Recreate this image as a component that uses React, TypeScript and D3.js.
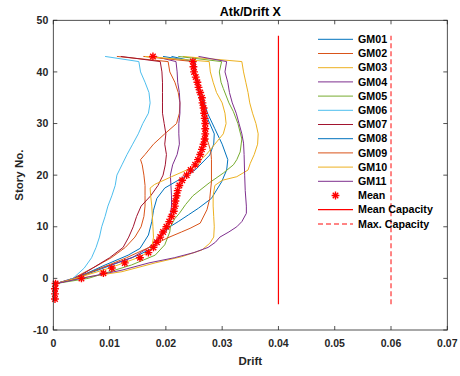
import React from 'react'
import * as d3 from 'd3'

// [story, drift]
const gm01: [number, number][] = [[-4, 0.0003], [-1, 0.0005], [0, 0.004], [2.6, 0.0104], [4.5, 0.0151], [5.8, 0.0175], [8.4, 0.0193], [10, 0.0207], [11, 0.0222], [12.3, 0.024], [13.6, 0.0258], [15.5, 0.0281], [18.7, 0.0299], [21, 0.0308], [23, 0.031], [26, 0.03], [29, 0.0287], [32, 0.0274], [35.5, 0.0264], [38, 0.0256], [40, 0.0252], [42, 0.0251], [43, 0.0195]]
const gm02: [number, number][] = [[-4, 0.0003], [-1, 0.0006], [0, 0.0035], [2, 0.007], [4, 0.0103], [6, 0.0128], [8, 0.0145], [10, 0.0156], [12, 0.0161], [14, 0.0163], [16, 0.0163], [18, 0.0163], [20, 0.0161], [22, 0.0158], [23, 0.0155], [24, 0.0163], [26, 0.0178], [28, 0.0198], [30, 0.0219], [32, 0.0224], [34, 0.0225], [36, 0.0222], [38, 0.0216], [40, 0.0207], [42, 0.0204], [43, 0.0113]]
const gm03: [number, number][] = [[-4, 0.0003], [-1, 0.0005], [0, 0.0045], [1.3, 0.0122], [3, 0.0181], [4.2, 0.0228], [5.5, 0.0264], [6.8, 0.0278], [8, 0.0285], [10, 0.0286], [12, 0.0285], [14, 0.0284], [16, 0.0284], [18, 0.0287], [19, 0.03], [19.7, 0.0326], [21, 0.0346], [22.3, 0.035], [24, 0.0357], [26, 0.0363], [28, 0.0364], [30, 0.036], [32, 0.0354], [34, 0.0349], [36, 0.0346], [38, 0.0342], [40, 0.0338], [42, 0.0335], [43, 0.023]]
const gm04: [number, number][] = [[-4, 0.0003], [-1, 0.0005], [0, 0.0035], [2, 0.0085], [4, 0.014], [6, 0.017], [8, 0.0188], [10, 0.0203], [12, 0.0208], [14, 0.021], [16, 0.021], [18, 0.0209], [20, 0.0208], [22, 0.0212], [24, 0.022], [26, 0.0224], [28, 0.0223], [30, 0.0223], [32, 0.0225], [34, 0.0225], [36, 0.0224], [38, 0.0221], [40, 0.022], [42, 0.0218], [43, 0.018]]
const gm05: [number, number][] = [[-4, 0.0003], [-1, 0.0005], [0, 0.0062], [2.6, 0.0139], [4.5, 0.0181], [6.5, 0.0198], [9, 0.0207], [10, 0.0208], [11.6, 0.0216], [12.6, 0.0224], [14.3, 0.0235], [16, 0.0248], [18.5, 0.0277], [20.4, 0.0302], [22, 0.032], [23, 0.0326], [24.5, 0.0332], [27, 0.0335], [30, 0.0328], [32.3, 0.032], [34, 0.0312], [36.8, 0.0302], [38, 0.0298], [40, 0.0295], [42, 0.0299], [43, 0.0222]]
const gm06: [number, number][] = [[-4, 0.0003], [-1, 0.0006], [0, 0.0035], [2, 0.0055], [4, 0.0068], [6, 0.0076], [8, 0.0082], [10, 0.0086], [12, 0.0092], [14, 0.0097], [16, 0.0104], [18, 0.011], [20, 0.0113], [22, 0.0122], [24, 0.0131], [26, 0.0141], [28, 0.0151], [30, 0.0159], [32, 0.0169], [34, 0.0172], [36, 0.017], [38, 0.0163], [40, 0.0155], [42, 0.0152], [43, 0.0092]]
const gm07: [number, number][] = [[-4, 0.0003], [-1, 0.0006], [0, 0.004], [2, 0.007], [4, 0.01], [6, 0.0124], [8, 0.0134], [10, 0.0142], [12, 0.0148], [14, 0.0156], [16, 0.0173], [18, 0.0186], [20, 0.0195], [22, 0.0199], [24, 0.0201], [26, 0.0198], [28, 0.02], [30, 0.0197], [32, 0.0194], [34, 0.0194], [36, 0.0194], [38, 0.0194], [40, 0.0193], [42, 0.019], [43, 0.012]]
const gm08: [number, number][] = [[-4, 0.0003], [-1, 0.0005], [0, 0.004], [2.5, 0.009], [4.5, 0.0133], [5.8, 0.0154], [8.4, 0.0169], [11, 0.0175], [13.2, 0.0178], [15.5, 0.0184], [17.5, 0.0198], [19.4, 0.0228], [21, 0.0252], [23.9, 0.0278], [26, 0.0285], [28, 0.0286], [30, 0.0278], [32, 0.027], [34, 0.0262], [37, 0.0256], [40, 0.0252], [42, 0.0252], [43, 0.021]]
const gm09: [number, number][] = [[-4, 0.0003], [-1, 0.0005], [0, 0.004], [2, 0.0085], [4, 0.013], [6, 0.017], [7.8, 0.0202], [9, 0.0228], [9.7, 0.0243], [10.7, 0.0261], [13.3, 0.0273], [15.5, 0.0278], [18.7, 0.0281], [23, 0.0281], [24.5, 0.028], [26, 0.0276], [28, 0.027], [30, 0.0268], [34, 0.0262], [38, 0.0256], [42, 0.0249], [43, 0.016]]
const gm10: [number, number][] = [[-4, 0.0003], [-1, 0.0005], [0, 0.004], [2, 0.01], [4, 0.015], [5, 0.0168], [6, 0.0175], [8, 0.0178], [10, 0.0177], [12, 0.0176], [14, 0.0175], [16, 0.0173], [17.5, 0.0172], [18.2, 0.018], [19.7, 0.021], [22, 0.0258], [23, 0.0262], [24, 0.0272], [26, 0.0287], [28, 0.0302], [30, 0.0307], [32, 0.0305], [34, 0.03], [36, 0.029], [38, 0.0284], [40, 0.0279], [42, 0.0277], [43, 0.0163]]
const gm11: [number, number][] = [[-4, 0.0003], [-1, 0.0005], [0, 0.005], [1.6, 0.0122], [3, 0.017], [4, 0.0215], [5, 0.025], [6, 0.0275], [7, 0.0288], [8, 0.0296], [9, 0.0312], [10, 0.0326], [11, 0.0335], [12.6, 0.0343], [14, 0.0343], [17, 0.0341], [20, 0.034], [24, 0.0339], [26.2, 0.0338], [28, 0.0335], [30, 0.033], [32, 0.0325], [34, 0.0318], [36, 0.0313], [38, 0.031], [40, 0.0305], [42, 0.0308], [43, 0.0258]]

const meanStories = d3.range(-4, 44)
const meanDrift = [0.0003, 0.0003, 0.0003, 0.0004, 0.005, 0.0089, 0.0104, 0.0127, 0.0154, 0.0169,
  0.0178, 0.0184, 0.019, 0.0195, 0.0201, 0.0206, 0.021, 0.0214, 0.0216, 0.0217,
  0.0219, 0.0221, 0.0224, 0.0229, 0.0237, 0.0244, 0.0252, 0.0257, 0.0261, 0.0264,
  0.0267, 0.0269, 0.027, 0.027, 0.027, 0.0269, 0.0268, 0.0267, 0.0265, 0.0264,
  0.0261, 0.0258, 0.0256, 0.0253, 0.025, 0.0249, 0.0248, 0.0177]

const meanCapacity = 0.04
const maxCapacity = 0.06
const capacityStories = [-5, 47]

const gmNames = ['GM01', 'GM02', 'GM03', 'GM04', 'GM05', 'GM06', 'GM07', 'GM08', 'GM09', 'GM10', 'GM11']
const gmData = [gm01, gm02, gm03, gm04, gm05, gm06, gm07, gm08, gm09, gm10, gm11]
const colors = ['#0072BD', '#D95319', '#EDB120', '#7E2F8E', '#77AC30', '#4DBEEE', '#A2142F',
  '#0072BD', '#D95319', '#EDB120', '#7E2F8E']

const xTicks = [0, 0.01, 0.02, 0.03, 0.04, 0.05, 0.06, 0.07]
const yTicks = [-10, 0, 10, 20, 30, 40, 50]

const font = '"Liberation Sans", Arial, sans-serif'
const axisColor = '#262626'

const star = (r: number) => {
  const p = d3.path()
  const a = r * 0.7071
  p.moveTo(-r, 0); p.lineTo(r, 0)
  p.moveTo(0, -r); p.lineTo(0, r)
  p.moveTo(-a, -a); p.lineTo(a, a)
  p.moveTo(-a, a); p.lineTo(a, -a)
  return p.toString()
}

const App: React.FC = () => {
  const width = 460
  const height = 376
  const left = 53.3, right = 447.3, top = 20.3, bottom = 330

  const x = d3.scaleLinear().domain([0, 0.07]).range([left, right])
  const y = d3.scaleLinear().domain([-10, 50]).range([bottom, top])

  const line = d3.line<[number, number]>()
    .x(d => x(d[1]))
    .y(d => y(d[0]))

  const starPath = star(3.9)
  const legendX = 318
  const legendY = 39.3
  const rowH = 14.2
  const legendFont = 10.7

  return (
    <svg width={width} height={height} style={{ position: 'absolute', left: 0, top: 0, background: '#fff' }}
      fontFamily={font}>
      <rect x={0} y={0} width={width} height={height} fill='#fff' />
      {gmData.map((d, i) => (
        <path key={gmNames[i]} d={line(d) ?? ''} fill='none' stroke={colors[i]} strokeWidth={1} />
      ))}
      {meanStories.map((s, i) => (
        <path key={'m' + s} d={starPath} transform={`translate(${x(meanDrift[i])},${y(s)})`}
          stroke='#ff0000' strokeWidth={1.4} fill='none' />
      ))}
      <line x1={x(meanCapacity)} x2={x(meanCapacity)} y1={y(capacityStories[0])} y2={y(capacityStories[1])}
        stroke='#ff0000' strokeWidth={1.2} />
      <line x1={x(maxCapacity)} x2={x(maxCapacity)} y1={y(capacityStories[0])} y2={y(capacityStories[1])}
        stroke='#ff5c5c' strokeWidth={1.5} strokeDasharray='5,3' />

      {/* axes box */}
      <rect x={left} y={top} width={right - left} height={bottom - top} fill='none' stroke={axisColor} strokeWidth={0.8} />
      {xTicks.map(t => (
        <g key={'x' + t}>
          <line x1={x(t)} x2={x(t)} y1={bottom} y2={bottom - 4} stroke={axisColor} strokeWidth={0.8} />
          <line x1={x(t)} x2={x(t)} y1={top} y2={top + 4} stroke={axisColor} strokeWidth={0.8} />
          <text x={x(t)} y={bottom + 17} textAnchor='middle' fontSize={10.5} fontWeight='bold' fill={axisColor}>
            {t === 0 ? '0' : d3.format('.2f')(t)}
          </text>
        </g>
      ))}
      {yTicks.map(t => (
        <g key={'y' + t}>
          <line x1={left} x2={left + 4} y1={y(t)} y2={y(t)} stroke={axisColor} strokeWidth={0.8} />
          <line x1={right} x2={right - 4} y1={y(t)} y2={y(t)} stroke={axisColor} strokeWidth={0.8} />
          <text x={left - 5} y={y(t)} dy='0.35em' textAnchor='end' fontSize={10.5} fontWeight='bold' fill={axisColor}>
            {t}
          </text>
        </g>
      ))}
      <text x={(left + right) / 2} y={15.5} textAnchor='middle' fontSize={12.5} fontWeight='bold' fill='#000'>
        Atk/Drift X
      </text>
      <text x={(left + right) / 2} y={365} textAnchor='middle' fontSize={11.5} fontWeight='bold' fill={axisColor}>
        Drift
      </text>
      <text transform={`translate(23,${(top + bottom) / 2}) rotate(-90)`} textAnchor='middle' fontSize={11.5}
        fontWeight='bold' fill={axisColor}>
        Story No.
      </text>

      {/* legend */}
      {gmNames.map((n, i) => (
        <g key={'l' + n} transform={`translate(0,${legendY + i * rowH})`}>
          <line x1={legendX} x2={legendX + 35} y1={0} y2={0} stroke={colors[i]} strokeWidth={1} />
          <text x={legendX + 40} y={0} dy='0.35em' fontSize={legendFont} fontWeight='bold' fill='#000'>{n}</text>
        </g>
      ))}
      <g transform={`translate(0,${legendY + 11 * rowH})`}>
        <path d={starPath} transform={`translate(${legendX + 17.5},0)`} stroke='#ff0000' strokeWidth={1.4} fill='none' />
        <text x={legendX + 40} y={0} dy='0.35em' fontSize={legendFont} fontWeight='bold' fill='#000'>Mean</text>
      </g>
      <g transform={`translate(0,${legendY + 12 * rowH})`}>
        <line x1={legendX} x2={legendX + 35} y1={0} y2={0} stroke='#ff0000' strokeWidth={1.2} />
        <text x={legendX + 40} y={0} dy='0.35em' fontSize={legendFont} fontWeight='bold' fill='#000'>Mean Capacity</text>
      </g>
      <g transform={`translate(0,${legendY + 13 * rowH})`}>
        <line x1={legendX} x2={legendX + 35} y1={0} y2={0} stroke='#ff5c5c' strokeWidth={1.5} strokeDasharray='5,3' />
        <text x={legendX + 40} y={0} dy='0.35em' fontSize={legendFont} fontWeight='bold' fill='#000'>Max. Capacity</text>
      </g>
    </svg>
  )
}

export default App
